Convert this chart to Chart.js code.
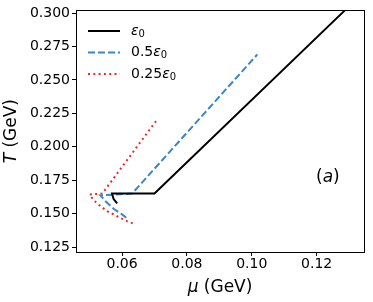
<!DOCTYPE html>
<html>
<head>
<meta charset="utf-8">
<script src="https://cdn.jsdelivr.net/npm/chart.js@4.4.0/dist/chart.umd.min.js"></script>
<style>
html, body { margin: 0; padding: 0; background: #fff; }
#wrap { width: 373px; height: 302px; }
</style>
</head>
<body>
<div id="wrap"><canvas id="phaseChart" width="373" height="302"></canvas></div>
<script>
// values (mu in GeV, T in GeV)
const muFull = [0.0585, 0.0574, 0.0569, 0.0700, 0.1287];
const tFull  = [0.1576, 0.1609, 0.1650, 0.1650, 0.3020];

const muHalf = [0.0613, 0.0600, 0.0574, 0.0549, 0.0533, 0.0631, 0.1017];
const tHalf  = [0.1469, 0.1494, 0.1536, 0.1593, 0.1636, 0.1650, 0.2690];

const muQuarter = [0.0633, 0.0615, 0.0595, 0.0574, 0.0554, 0.0538, 0.0523, 0.0511, 0.0500, 0.0539, 0.0708];
const tQuarter  = [0.1427, 0.1444, 0.1468, 0.1494, 0.1518, 0.1548, 0.1576, 0.1606, 0.1643, 0.1650, 0.2203];

const xTicks = [0.06, 0.08, 0.10, 0.12];
const yTicks = [0.125, 0.150, 0.175, 0.200, 0.225, 0.250, 0.275, 0.300];

const seriesNames = ['ε', '0.5ε', '0.25ε'];
const seriesColors = ['#000000', '#3a86c6', '#ea2a2d'];
const seriesDash = [[], [7, 3], [2, 3.3]];

const toPoints = (xs, ys) => xs.map((x, i) => ({ x: x, y: ys[i] }));
const pointSets = [toPoints(muFull, tFull), toPoints(muHalf, tHalf), toPoints(muQuarter, tQuarter)];

const FONT = '"DejaVu Sans", sans-serif';

// frame, legend, axis titles and panel label
const decorations = {
    id: 'decorations',
    afterDraw(chart) {
        const ctx = chart.ctx;
        const a = chart.chartArea;
        ctx.save();
        ctx.strokeStyle = '#000';
        ctx.lineWidth = 1;
        ctx.strokeRect(Math.round(a.left) + 0.5, Math.round(a.top) + 0.5,
                       Math.round(a.right - a.left), Math.round(a.bottom - a.top));

        // legend
        ctx.textBaseline = 'middle';
        seriesNames.forEach((name, i) => {
            const y = 31 + i * 21.5;
            ctx.beginPath();
            ctx.setLineDash(seriesDash[i]);
            ctx.strokeStyle = seriesColors[i];
            ctx.lineWidth = 2;
            ctx.moveTo(88, y);
            ctx.lineTo(120, y);
            ctx.stroke();
            ctx.setLineDash([]);
            ctx.fillStyle = '#000';
            let x = 131;
            const num = name.slice(0, -1);
            if (num) {
                ctx.font = '14px ' + FONT;
                ctx.fillText(num, x, y);
                x += ctx.measureText(num).width;
            }
            ctx.font = 'italic 14px ' + FONT;
            ctx.fillText('ε', x, y);
            x += ctx.measureText('ε').width;
            ctx.font = '10px ' + FONT;
            ctx.fillText('0', x, y + 3);
        });

        // x title
        ctx.font = 'italic 17px ' + FONT;
        const muW = ctx.measureText('μ').width;
        ctx.font = '17px ' + FONT;
        const restX = ' (GeV)';
        const restXW = ctx.measureText(restX).width;
        let xs = (a.left + a.right) / 2 - (muW + restXW) / 2;
        ctx.font = 'italic 17px ' + FONT;
        ctx.fillText('μ', xs, 288);
        ctx.font = '17px ' + FONT;
        ctx.fillText(restX, xs + muW, 288);

        // y title
        ctx.save();
        ctx.translate(12, (a.top + a.bottom) / 2);
        ctx.rotate(-Math.PI / 2);
        ctx.font = 'italic 17px ' + FONT;
        const tW = ctx.measureText('T').width;
        ctx.font = '17px ' + FONT;
        const restY = ' (GeV)';
        const restYW = ctx.measureText(restY).width;
        const ys = -(tW + restYW) / 2;
        ctx.font = 'italic 17px ' + FONT;
        ctx.fillText('T', ys, 0);
        ctx.font = '17px ' + FONT;
        ctx.fillText(restY, ys + tW, 0);
        ctx.restore();

        // panel label
        ctx.font = '17px ' + FONT;
        ctx.fillText('(', 316, 178);
        let px = 316 + ctx.measureText('(').width;
        ctx.font = 'italic 17px ' + FONT;
        ctx.fillText('a', px, 178);
        px += ctx.measureText('a').width;
        ctx.font = '17px ' + FONT;
        ctx.fillText(')', px, 178);
        ctx.restore();
    }
};

new Chart(document.getElementById('phaseChart'), {
    type: 'scatter',
    data: {
        datasets: pointSets.map((pts, i) => ({
            label: seriesNames[i] + '0',
            data: pts,
            showLine: true,
            borderColor: seriesColors[i],
            borderWidth: 2,
            borderDash: seriesDash[i],
            borderCapStyle: 'butt',
            pointRadius: 0,
            tension: 0
        }))
    },
    options: {
        responsive: false,
        animation: false,
        layout: { padding: { left: 0, top: 10, right: 9, bottom: 0 } },
        plugins: { legend: { display: false }, tooltip: { enabled: false } },
        scales: {
            x: {
                type: 'linear',
                min: 0.0458,
                max: 0.1346,
                afterBuildTicks: s => { s.ticks = xTicks.map(v => ({ value: v })); },
                afterFit: s => { s.height = 50; },
                grid: { drawOnChartArea: false, drawTicks: true, tickLength: 4, color: '#000' },
                border: { display: true, color: '#000' },
                ticks: {
                    color: '#000',
                    padding: 0,
                    maxRotation: 0,
                    font: { family: FONT, size: 14 },
                    callback: v => v.toFixed(2)
                }
            },
            y: {
                type: 'linear',
                min: 0.1213,
                max: 0.302,
                afterBuildTicks: s => { s.ticks = yTicks.map(v => ({ value: v })); },
                afterFit: s => { s.width = 76; },
                grid: { drawOnChartArea: false, drawTicks: true, tickLength: 4, color: '#000' },
                border: { display: true, color: '#000' },
                ticks: {
                    color: '#000',
                    padding: 2,
                    font: { family: FONT, size: 14 },
                    callback: v => v.toFixed(3)
                }
            }
        }
    },
    plugins: [decorations]
});
</script>
</body>
</html>
